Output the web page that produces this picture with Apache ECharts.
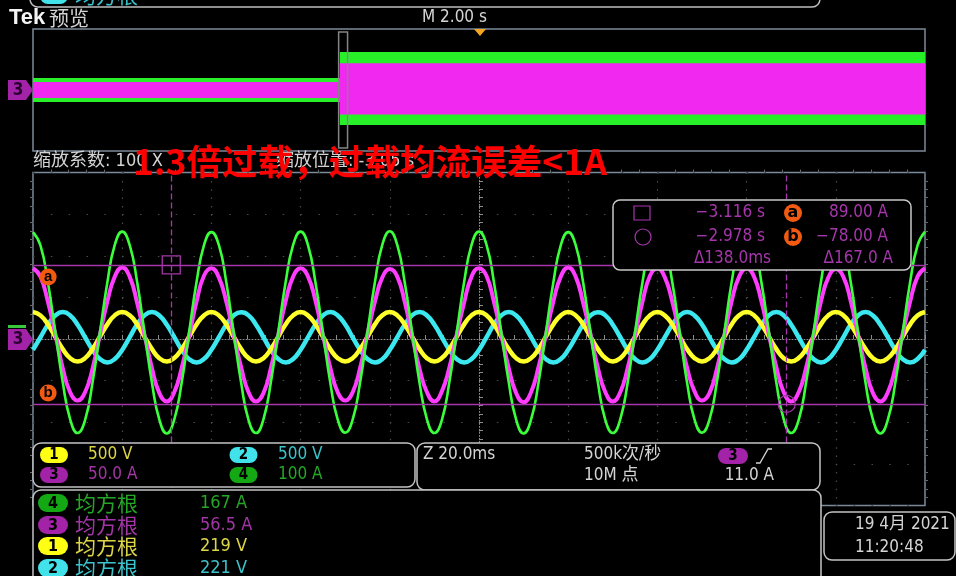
<!DOCTYPE html>
<html><head><meta charset="utf-8">
<script src="https://cdn.jsdelivr.net/npm/echarts@6/dist/echarts.min.js"></script>
<style>html,body{margin:0;padding:0;background:#000;overflow:hidden}#c{width:956px;height:576px}</style>
</head><body><div id="c"></div><script>
// ---------------- DATA ----------------
// zoom window (main view) sample times, ms relative to zoom position
const sampleTimes = [
-100,-98.33,-96.67,-95,-93.33,-91.67,-90,-88.33,-86.67,-85,-83.33,-81.67,
-80,-78.33,-76.67,-75,-73.33,-71.67,-70,-68.33,-66.67,-65,-63.33,-61.67,
-60,-58.33,-56.67,-55,-53.33,-51.67,-50,-48.33,-46.67,-45,-43.33,-41.67,
-40,-38.33,-36.67,-35,-33.33,-31.67,-30,-28.33,-26.67,-25,-23.33,-21.67,
-20,-18.33,-16.67,-15,-13.33,-11.67,-10,-8.33,-6.67,-5,-3.33,-1.67,
0,1.67,3.33,5,6.67,8.33,10,11.67,13.33,15,16.67,18.33,
20,21.67,23.33,25,26.67,28.33,30,31.67,33.33,35,36.67,38.33,
40,41.67,43.33,45,46.67,48.33,50,51.67,53.33,55,56.67,58.33,
60,61.67,63.33,65,66.67,68.33,70,71.67,73.33,75,76.67,78.33,
80,81.67,83.33,85,86.67,88.33,90,91.67,93.33,95,96.67,98.33,
100];
// CH4 current (A), 100 A/div
const ch4Current = [
257,225,137,17,-104,-193,-226,-195,-106,15,136,226,
258,226,138,16,-105,-194,-227,-194,-105,16,137,225,
257,226,137,15,-105,-195,-226,-193,-104,17,138,226,
258,225,136,16,-106,-194,-225,-194,-105,16,137,227,
259,226,137,17,-105,-193,-226,-195,-105,15,137,226,
258,227,138,16,-104,-194,-227,-194,-106,16,136,225,
257,226,137,15,-105,-195,-226,-193,-105,17,137,226,
258,225,137,16,-106,-194,-225,-194,-104,16,138,226,
258,226,136,17,-105,-193,-226,-195,-105,15,137,227,
257,226,138,16,-105,-194,-227,-194,-106,16,137,225,
258];
// CH3 current (A), 50 A/div
const ch3Current = [
85,75,45,6,-35,-64,-74,-64,-36,5,45,75,
86,75,44,5,-35,-65,-75,-64,-35,4,45,76,
85,74,45,5,-34,-64,-75,-65,-35,5,46,75,
85,75,46,5,-35,-64,-74,-64,-35,6,45,74,
84,75,45,4,-36,-64,-75,-63,-35,5,44,75,
85,76,45,5,-35,-65,-76,-64,-34,5,45,75,
86,75,44,6,-35,-64,-75,-64,-35,5,45,76,
85,74,45,5,-35,-63,-74,-65,-36,4,46,75,
85,75,45,5,-34,-64,-75,-64,-35,5,45,74,
84,75,46,5,-35,-65,-75,-64,-35,6,45,75,
85];
// CH1 voltage (V), 500 V/div
const ch1Voltage = [
325,284,176,27,-122,-230,-270,-230,-122,27,176,284,
324,285,177,26,-121,-231,-271,-229,-123,28,175,283,
326,284,176,27,-122,-229,-270,-231,-122,27,177,284,
325,283,175,28,-123,-230,-269,-230,-121,26,176,285,
324,284,176,27,-122,-231,-270,-229,-122,27,176,284,
325,285,177,27,-121,-230,-271,-230,-123,28,175,283,
326,284,176,26,-122,-229,-270,-231,-122,27,176,284,
325,283,176,27,-123,-230,-269,-230,-121,27,177,285,
324,284,175,28,-122,-231,-270,-229,-122,26,176,284,
325,285,176,27,-121,-230,-271,-230,-123,27,175,283,
325];
// CH2 voltage (V), 500 V/div
const ch2Voltage = [
-130,21,172,283,324,283,172,21,-130,-241,-282,-241,
-131,20,173,284,325,282,171,22,-129,-242,-283,-240,
-130,21,172,283,323,284,172,21,-131,-241,-282,-241,
-129,22,171,282,324,283,173,20,-130,-240,-281,-242,
-130,21,172,284,325,283,172,21,-130,-241,-282,-241,
-131,20,173,283,324,282,171,22,-129,-242,-283,-240,
-130,21,172,283,323,284,172,21,-131,-241,-282,-241,
-129,22,171,282,324,283,173,20,-130,-240,-281,-242,
-130,21,172,284,325,283,172,21,-130,-241,-282,-241,
-131,20,173,283,324,282,171,22,-129,-242,-283,-240,
-130];
// overview (record, s): envelope segments before / after the 1.3x overload step
const ovSegStart = [-10, -3.12];
const ovSegEnd   = [-3.12, 10];
const ovCh4Low  = [-79, -229];
const ovCh4High = [79, 249];
const ovCh3Low  = [-26, -80];
const ovCh3High = [26, 88];
// zoom / cursors
const zoomPosition = -3.047;      // s
const zoomHalfSpan = 0.1;         // s
const cursorTimes = [-3.116, -2.978]; // s
const cursorLevels = [89.00, -78.00]; // A (ch3)
const triggerLevel = 11.0;
// readouts
const scaleLabels = ['500 V', '500 V', '50.0 A', '100 A'];
const rmsRows = [['4','167 A'], ['3','56.5 A'], ['1','219 V'], ['2','221 V']];

// ---------------- STYLE ----------------
const FONT = '"DejaVu Sans Condensed","DejaVu Sans","Noto Sans CJK SC",sans-serif';
const CJK = '"Noto Sans CJK SC","DejaVu Sans",sans-serif';
const TR = {1:'#ffff2a', 2:'#3ce8f0', 3:'#ff3cff', 4:'#3cff3c'};
const TX = {1:'#ddd548', 2:'#3cc4cc', 3:'#a236a6', 4:'#26a626'};
const PL = {1:'#ffff14', 2:'#42e2ea', 3:'#a222a8', 4:'#14a814'};
const CUR = '#a536ab';
const WHITE = '#d4d4d4';

const G = [];
function T(x, y, s, fill, size, o) {
  o = o || {};
  G.push({type:'text', x:x, y:y, z:o.z || 50, silent:true,
    style:{text:s, fill:fill, font:(o.weight || 'normal') + ' ' + size + 'px ' + (o.family || FONT),
      align:o.align || 'left', verticalAlign:'middle'}});
}
function R(x, y, w, h, r, fill, stroke, lw, z) {
  G.push({type:'rect', z:z || 50, silent:true, shape:{x:x, y:y, width:w, height:h, r:r},
    style:{fill:fill, stroke:stroke || null, lineWidth:lw || 0}});
}
function pill(cx, cy, w, h, ch, size) {
  R(cx - w/2, cy - h/2, w, h, h/2, PL[ch]);
  T(cx, cy + 0.5, ch, '#000', size || 15, {align:'center', weight:'bold'});
}
const fmtS = v => (v < 0 ? '−' : '') + Math.abs(v).toFixed(3) + ' s';
const fmtA = v => (v < 0 ? '−' : '') + Math.abs(v).toFixed(2) + ' A';

// top (cut off) measurement box
R(30, -40, 790, 47, 8, '#000', '#bdbdbd', 1.5);
pill(54, -4, 28, 16, '2');
T(75, -5, '均方根', TX[2], 21, {family:CJK});
T(200, -5, '222 V', TX[2], 18);
// header
T(9, 18, 'Tek', '#f4f4f4', 22, {weight:'bold', family:'"Liberation Sans",sans-serif'});
T(49, 18, '预览', WHITE, 20, {family:CJK});
T(422, 18, 'M 2.00 s', WHITE, 17);
G.push({type:'polygon', z:50, silent:true, shape:{points:[[474,29],[486,29],[480,36]]}, style:{fill:'#f5a623'}});
// channel markers
G.push({type:'polygon', z:50, silent:true, shape:{points:[[8,80],[26,80],[33,90],[26,100],[8,100]]}, style:{fill:PL[3]}});
T(18, 90.5, '3', '#2a0030', 17, {align:'center', weight:'bold'});
R(8, 325, 18, 3, 0, '#3cc83c');
G.push({type:'polygon', z:50, silent:true, shape:{points:[[8,329],[26,329],[33,339.5],[26,350],[8,350]]}, style:{fill:PL[3]}});
T(18, 340, '3', '#2a0030', 17, {align:'center', weight:'bold'});
// zoom info + title
T(33, 161, '缩放系数: 100 X', WHITE, 18);
T(276, 161, '缩放位置: ' + zoomPosition.toFixed(2) + ' s', WHITE, 18);
T(133, 161, '1.3倍过载，过载均流误差<1A', '#ff0000', 35.6, {weight:'bold', family:CJK, z:60});
// cursor readout
R(613, 200, 298, 70, 7, '#000', '#c8c8c8', 1.5);
R(634, 206, 16, 14, 0, null, CUR, 1.2);
G.push({type:'circle', z:50, silent:true, shape:{cx:643, cy:237, r:8}, style:{fill:null, stroke:CUR, lineWidth:1.2}});
[['a',213],['b',237]].forEach(function(p){
  G.push({type:'circle', z:50, silent:true, shape:{cx:793, cy:p[1], r:9}, style:{fill:'#f25a12'}});
  T(793, p[1], p[0], '#000', 16, {align:'center', weight:'bold', family:'"DejaVu Sans",sans-serif'});
});
T(765, 213, fmtS(cursorTimes[0]), CUR, 17, {align:'right'});
T(888, 213, fmtA(cursorLevels[0]), CUR, 17, {align:'right'});
T(765, 237, fmtS(cursorTimes[1]), CUR, 17, {align:'right'});
T(888, 237, fmtA(cursorLevels[1]), CUR, 17, {align:'right'});
T(771, 259, 'Δ' + ((cursorTimes[1] - cursorTimes[0]) * 1000).toFixed(1) + 'ms', CUR, 17, {align:'right'});
T(893, 259, 'Δ' + (cursorLevels[0] - cursorLevels[1]).toFixed(1) + ' A', CUR, 17, {align:'right'});
// bottom panels
R(33, 443, 382, 44, 8, '#000', '#c4c4c4', 1.5);
pill(54, 455, 28, 16, '1'); T(88, 455, scaleLabels[0], TX[1], 17);
pill(243.5, 455, 28, 16, '2'); T(278, 455, scaleLabels[1], TX[2], 17);
pill(54, 475, 28, 16, '3'); T(88, 475, scaleLabels[2], TX[3], 17);
pill(243.5, 475, 28, 16, '4'); T(278, 475, scaleLabels[3], TX[4], 17);
R(417, 443, 403, 47, 8, '#000', '#c4c4c4', 1.5);
T(423, 455, 'Z 20.0ms', WHITE, 17);
T(584, 455, '500k次/秒', WHITE, 17);
T(584, 476, '10M 点', WHITE, 17);
pill(733, 456, 30, 16, '3');
G.push({type:'polyline', z:50, silent:true, shape:{points:[[756,463],[760,463],[768,449],[772,449]]}, style:{stroke:WHITE, lineWidth:1.3, fill:null}});
T(774, 476, triggerLevel.toFixed(1) + ' A', WHITE, 17, {align:'right'});
R(33, 490, 788, 100, 8, '#000', '#c4c4c4', 1.5);
const rowY = [503, 525, 546, 568];
rmsRows.forEach(function(r, i){
  pill(53, rowY[i], 30, 18, r[0], 16);
  T(75, rowY[i], '均方根', TX[r[0]], 21, {family:CJK});
  T(200, rowY[i], r[1], TX[r[0]], 18);
});
R(824, 512, 131, 48, 8, '#000', '#c4c4c4', 1.5);
T(855, 525, '19 4月 2021', WHITE, 17);
T(855, 548, '11:20:48', WHITE, 17);

// ---------------- CHART ----------------
const chart = echarts.init(document.getElementById('c'), null, {renderer:'canvas'});
const pair = (ts, vs) => ts.map((t, i) => [t, vs[i]]);
const toMs = s => +((s - zoomPosition) * 1000).toFixed(2);
function band(color) {
  return function(params, api) {
    const a = api.coord([api.value(0), api.value(3)]);
    const b = api.coord([api.value(1), api.value(2)]);
    return {type:'rect', shape:{x:a[0], y:a[1], width:b[0]-a[0], height:b[1]-a[1]}, style:{fill:color}};
  };
}
function zoomBox(params, api) {
  const a = api.coord([api.value(0), 0]);
  const b = api.coord([api.value(1), 0]);
  const cs = params.coordSys;
  return {type:'rect', shape:{x:a[0], y:cs.y + 3, width:b[0]-a[0], height:cs.height - 6},
    style:{fill:null, stroke:'#858585', lineWidth:1.5}};
}
const GRIDC = '#4b4b4b', CENT = '#8c8c8c';
const hidden = {show:false, axisLine:{onZero:false}};
const labelT = -96.6;

chart.setOption({
  backgroundColor:'#000',
  animation:false,
  grid:[
    {left:33, top:29, width:892, height:122, show:true, borderColor:'#7d8b99', borderWidth:1.5},
    {left:33, top:172.6, width:892, height:332.8, show:true, borderColor:'#7b8b9b', borderWidth:1.5}
  ],
  xAxis:[
    Object.assign({gridIndex:0, type:'value', min:-10, max:10, interval:2}, hidden),
    {gridIndex:1, type:'value', min:-100, max:100, interval:20,
      axisLine:{show:true, onZero:true, lineStyle:{color:CENT, width:1, type:[1,2]}},
      axisTick:{show:true, inside:true, length:4, lineStyle:{color:CENT}},
      minorTick:{show:true, splitNumber:5, length:4, lineStyle:{color:CENT}},
      axisLabel:{show:false},
      splitLine:{show:true, lineStyle:{color:GRIDC, width:1.2, type:[1.5,6.82]}}},
    {gridIndex:1, type:'value', min:-100, max:100, interval:20,
      axisLine:{show:false, onZero:true},
      axisTick:{show:true, inside:false, length:4, lineStyle:{color:CENT}},
      minorTick:{show:true, splitNumber:5, length:4, lineStyle:{color:CENT}},
      axisLabel:{show:false}, splitLine:{show:false}},
    {gridIndex:1, type:'value', min:-100, max:100, interval:20, position:'top',
      axisLine:{show:false, onZero:false},
      axisTick:{show:false},
      minorTick:{show:true, splitNumber:5, length:3, lineStyle:{color:'#6a6a6a'}},
      axisLabel:{show:false}, splitLine:{show:false}}
  ],
  yAxis:[
    Object.assign({gridIndex:0, type:'value', min:-400, max:400}, hidden),
    Object.assign({gridIndex:0, type:'value', min:-200, max:200}, hidden),
    {gridIndex:1, type:'value', min:-200, max:200, interval:50,
      axisLine:{show:true, onZero:true, lineStyle:{color:CENT, width:1, type:[1,2]}},
      axisTick:{show:true, inside:true, length:4, lineStyle:{color:CENT}},
      minorTick:{show:true, splitNumber:5, length:4, lineStyle:{color:CENT}},
      axisLabel:{show:false},
      splitLine:{show:true, lineStyle:{color:GRIDC, width:1.2, type:[1.5,16.34]}}},
    {gridIndex:1, type:'value', min:-200, max:200, interval:50,
      axisLine:{show:false, onZero:true},
      axisTick:{show:true, inside:false, length:4, lineStyle:{color:CENT}},
      minorTick:{show:true, splitNumber:5, length:4, lineStyle:{color:CENT}},
      axisLabel:{show:false}, splitLine:{show:false}},
    Object.assign({gridIndex:1, type:'value', min:-400, max:400}, hidden),
    Object.assign({gridIndex:1, type:'value', min:-2000, max:2000}, hidden),
    Object.assign({gridIndex:1, type:'value', min:-2000, max:2000}, hidden),
    {gridIndex:1, type:'value', min:-200, max:200, interval:50, position:'left',
      axisLine:{show:false, onZero:false}, axisTick:{show:false},
      minorTick:{show:true, splitNumber:5, length:3, lineStyle:{color:'#6a6a6a'}},
      axisLabel:{show:false}, splitLine:{show:false}},
    {gridIndex:1, type:'value', min:-200, max:200, interval:50, position:'right',
      axisLine:{show:false, onZero:false}, axisTick:{show:false},
      minorTick:{show:true, splitNumber:5, length:3, lineStyle:{color:'#6a6a6a'}},
      axisLabel:{show:false}, splitLine:{show:false}}
  ],
  graphic:{elements:G},
  series:[
    {type:'custom', xAxisIndex:0, yAxisIndex:0, silent:true, renderItem:band('#28f028'),
      encode:{x:[0,1], y:[2,3]},
      data:ovSegStart.map((s, i) => [s, ovSegEnd[i], ovCh4Low[i], ovCh4High[i]])},
    {type:'custom', xAxisIndex:0, yAxisIndex:1, silent:true, renderItem:band('#f028f0'),
      encode:{x:[0,1], y:[2,3]},
      data:ovSegStart.map((s, i) => [s, ovSegEnd[i], ovCh3Low[i], ovCh3High[i]])},
    {type:'custom', xAxisIndex:0, yAxisIndex:1, silent:true, renderItem:zoomBox, z:5,
      encode:{x:[0,1]},
      data:[[zoomPosition - zoomHalfSpan, zoomPosition + zoomHalfSpan]]},
    {type:'line', xAxisIndex:1, yAxisIndex:2, silent:true, z:1, showSymbol:false,
      lineStyle:{opacity:0}, data:[[toMs(cursorTimes[0]), cursorLevels[0]], [toMs(cursorTimes[1]), cursorLevels[1]]],
      markLine:{silent:true, symbol:['none','none'], label:{show:false}, animation:false,
        lineStyle:{color:CUR, width:1.3, type:'solid'},
        data:[{yAxis:cursorLevels[0]}, {yAxis:cursorLevels[1]},
          {xAxis:toMs(cursorTimes[0]), lineStyle:{type:[6,3], color:CUR, width:1.3}},
          {xAxis:toMs(cursorTimes[1]), lineStyle:{type:[6,3], color:CUR, width:1.3}}]},
      markPoint:{silent:true, animation:false, data:[
        {coord:[toMs(cursorTimes[0]), cursorLevels[0]], symbol:'rect', symbolSize:[18,18],
          itemStyle:{color:'rgba(0,0,0,0)', borderColor:CUR, borderWidth:1.3}, label:{show:false}},
        {coord:[toMs(cursorTimes[1]), cursorLevels[1]], symbol:'circle', symbolSize:17,
          itemStyle:{color:'rgba(0,0,0,0)', borderColor:CUR, borderWidth:1.3}, label:{show:false}},
        {coord:[labelT, cursorLevels[0]], symbol:'circle', symbolSize:17, symbolOffset:[0,12],
          itemStyle:{color:'#f25a12'}, label:{show:true, position:'inside', formatter:'a', color:'#000', fontWeight:'bold', fontSize:15}},
        {coord:[labelT, cursorLevels[1]], symbol:'circle', symbolSize:17, symbolOffset:[0,-11],
          itemStyle:{color:'#f25a12'}, label:{show:true, position:'inside', formatter:'b', color:'#000', fontWeight:'bold', fontSize:15}}
      ]}},
    {type:'line', name:'CH2', xAxisIndex:1, yAxisIndex:6, z:3, silent:true, smooth:true, showSymbol:false,
      lineStyle:{color:TR[2], width:4.5}, data:pair(sampleTimes, ch2Voltage)},
    {type:'line', name:'CH1', xAxisIndex:1, yAxisIndex:5, z:3, silent:true, smooth:true, showSymbol:false,
      lineStyle:{color:TR[1], width:4.5}, data:pair(sampleTimes, ch1Voltage)},
    {type:'line', name:'CH3', xAxisIndex:1, yAxisIndex:2, z:3, silent:true, smooth:true, showSymbol:false,
      lineStyle:{color:TR[3], width:4}, data:pair(sampleTimes, ch3Current)},
    {type:'line', name:'CH4', xAxisIndex:1, yAxisIndex:4, z:3, silent:true, smooth:true, showSymbol:false,
      lineStyle:{color:TR[4], width:2.6}, data:pair(sampleTimes, ch4Current)}
  ]
});
</script></body></html>
